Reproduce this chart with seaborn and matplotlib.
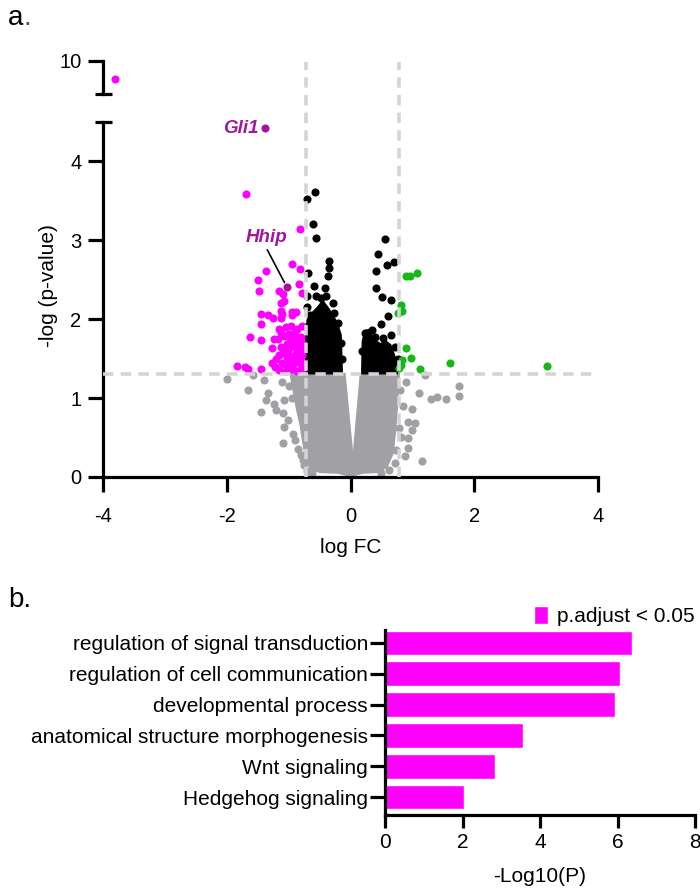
import numpy as np
import pandas as pd
import seaborn as sns
import matplotlib.pyplot as plt

# ---------------- Volcano data ----------------
mag_x = [-3.81, -1.69, -0.81, -1.37, -0.95, -0.81, -1.49, -1.48, -1.16, -0.84,
         -1.09, -0.78, -1.07, -1.12, -1.12, -0.94, -1.44, -1.34, -1.25, -1.12,
         -1.45, -1.10, -0.88, -0.95, -1.63, -1.45, -1.23, -1.27, -1.83, -1.71,
         -1.66, -1.44, -1.27,
         -1.15, -1.05, -0.96, -0.86, -0.78, -1.17, -1.08, -0.99, -0.90, -0.80,
         -1.13, -1.03, -0.93, -0.84, -0.76, -1.16, -1.06, -0.97, -0.88, -0.78,
         -1.10, -1.00, -0.92, -0.83, -0.76, -1.15, -1.05, -0.96, -0.86, -0.78,
         -1.20, -1.22, -1.01, -0.89, -0.81, -1.02, -0.94, -0.86, -1.09, -0.98,
         -0.90, -0.82, -1.12, -1.04, -0.79, -0.92, -0.85]
mag_y = [9.45, 3.59, 3.14, 2.61, 2.70, 2.64, 2.50, 2.36, 2.36, 2.45,
         2.32, 2.33, 2.23, 2.21, 2.10, 2.09, 2.06, 2.05, 2.01, 2.01,
         1.94, 2.07, 2.09, 2.05, 1.78, 1.74, 1.75, 1.63, 1.41, 1.40,
         1.37, 1.37, 1.44,
         1.88, 1.90, 1.91, 1.87, 1.92, 1.75, 1.79, 1.81, 1.76, 1.78,
         1.65, 1.68, 1.66, 1.64, 1.69, 1.55, 1.57, 1.54, 1.56, 1.55,
         1.45, 1.47, 1.44, 1.46, 1.43, 1.36, 1.35, 1.37, 1.34, 1.36,
         1.50, 1.40, 1.60, 1.70, 1.50, 1.52, 1.40, 1.60, 1.62, 1.72,
         1.84, 1.62, 1.82, 1.42, 1.40, 1.50, 1.72]

blk_x = [-0.70, -0.57, -0.61, -0.55, -0.34, -0.34, -0.36, -0.69, -0.59, -0.42,
         -0.39, -0.47, -0.55, -0.28, -0.71, -0.71, -0.26, -0.65, -0.20, -0.15,
         -0.13, -0.72, -0.74,
         0.55, 0.45, 0.59, 0.71, 0.42, 0.42, 0.51, 0.66, 0.60, 0.49,
         0.23, 0.34, 0.52, 0.66, 0.72, 0.76, 0.19, 0.40]
blk_y = [3.52, 3.61, 3.21, 3.03, 2.74, 2.65, 2.55, 2.58, 2.42, 2.39,
         2.29, 2.27, 2.29, 2.20, 2.29, 2.16, 2.08, 2.05, 1.95, 1.70,
         1.50, 1.90, 1.60,
         3.02, 2.83, 2.69, 2.72, 2.61, 2.40, 2.28, 2.25, 2.04, 1.94,
         1.83, 1.86, 1.76, 1.80, 1.65, 1.50, 1.60, 1.78]

grn_x = [0.89, 0.96, 1.08, 0.82, 0.84, 0.77, 0.89, 0.98, 0.84, 0.82, 1.12, 1.60, 3.17, 0.79]
grn_y = [2.55, 2.55, 2.58, 2.18, 2.10, 2.08, 1.64, 1.51, 1.48, 1.42, 1.37, 1.44, 1.41, 1.38]

gry_x = [-1.99, -1.66, -1.57, -1.40, -1.45, -1.36, -1.33, -1.24, -1.20, -1.09,
         -1.07, -1.09, -1.01, -0.93, -0.90, -0.77, -1.07, -1.00, -1.10, -0.95,
         -0.85, -0.80, -0.75, -0.70, -0.62,
         1.20, 1.10, 1.30, 1.40, 1.54, 1.75, 1.75, 0.99, 1.04, 0.99,
         0.93, 0.82, 0.93, 0.88, 1.15, 0.74, 0.93, 0.79, 0.85, 0.80, 0.90,
         0.72, 0.62, 0.50]
gry_y = [1.24, 1.10, 1.29, 1.23, 0.82, 0.98, 1.06, 0.93, 0.85, 0.81,
         0.64, 0.43, 0.72, 0.55, 0.47, 0.22, 0.98, 1.15, 1.20, 1.00,
         0.35, 0.28, 0.15, 0.08, 0.05,
         1.29, 1.07, 0.99, 1.01, 0.99, 1.15, 1.03, 0.86, 0.69, 0.60,
         0.49, 0.51, 0.37, 0.27, 0.20, 0.34, 0.70, 0.62, 0.90, 1.10, 1.20,
         0.18, 0.09, 0.05]

# outlines of the dense clouds (too many genes to place one by one)
gry_env_x = [-0.99, -0.93, -0.88, -0.82, -0.78, -0.74, -0.66, -0.50, -0.20, 0.00,
             0.20, 0.45, 0.60, 0.70, 0.74, 0.77, 0.80, 0.15, 0.04, -0.08]
gry_env_y = [1.32, 1.06, 0.85, 0.64, 0.43, 0.25, 0.10, 0.05, 0.04, 0.00,
             0.04, 0.05, 0.12, 0.30, 0.60, 0.90, 1.32, 1.32, 0.34, 1.32]
blk_left_x = [-0.74, -0.74, -0.71, -0.64, -0.55, -0.45, -0.35, -0.27, -0.20, -0.14, -0.12]
blk_left_y = [1.30, 1.80, 2.00, 2.08, 2.15, 2.25, 2.15, 2.05, 1.95, 1.80, 1.30]
blk_right_x = [0.17, 0.18, 0.22, 0.30, 0.38, 0.48, 0.58, 0.66, 0.72, 0.77, 0.77]
blk_right_y = [1.30, 1.72, 1.86, 1.88, 1.76, 1.70, 1.73, 1.68, 1.55, 1.45, 1.30]

genes = ["Gli1", "Hhip"]
gene_x = [-1.38, -1.03]
gene_y = [4.42, 2.41]

fc_cut = [-0.72, 0.78]
p_cut = 1.3

# ---------------- GO enrichment data ----------------
terms = ["regulation of signal transduction", "regulation of cell communication",
         "developmental process", "anatomical structure morphogenesis",
         "Wnt signaling", "Hedgehog signaling"]
logp = [6.37, 6.06, 5.94, 3.57, 2.84, 2.04]

# ---------------- Style ----------------
sns.set_theme(style="ticks")
plt.rcParams["font.family"] = ["Liberation Sans", "DejaVu Sans"]
plt.rcParams["axes.linewidth"] = 2.3
plt.rcParams["axes.unicode_minus"] = False
for k in ["text.color", "axes.labelcolor", "xtick.color", "ytick.color", "axes.edgecolor"]:
    plt.rcParams[k] = "black"

MAG = "#ff00ff"
GRN = "#16b816"
GRY = "#a0a0a5"
DASH = "#d4d4d4"
LAB = "#a0169c"

fig = plt.figure(figsize=(7, 8.9), dpi=100)
W, H = 700, 890
ax_top = fig.add_axes([103 / W, (H - 94) / H, 495 / W, 33 / H])
ax = fig.add_axes([103 / W, (H - 477) / H, 495 / W, 355 / H])

pt = dict(s=34, linewidth=0, legend=False)
for a in (ax, ax_top):
    a.fill(gry_env_x, gry_env_y, color=GRY, lw=0, zorder=1)
    sns.scatterplot(x=gry_x, y=gry_y, color=GRY, ax=a, zorder=2, **pt)
    a.fill(blk_left_x, blk_left_y, color="black", lw=0, zorder=2)
    a.fill(blk_right_x, blk_right_y, color="black", lw=0, zorder=2)
    sns.scatterplot(x=blk_x, y=blk_y, color="black", ax=a, zorder=3, **pt)
    sns.scatterplot(x=mag_x, y=mag_y, color=MAG, ax=a, zorder=3, **pt)
    sns.scatterplot(x=grn_x, y=grn_y, color=GRN, ax=a, zorder=3, **pt)
    sns.scatterplot(x=gene_x, y=gene_y, color=LAB, ax=a, zorder=4, **pt)
    a.set_xlim(-4, 4)

# threshold lines
for xc in fc_cut:
    ax.plot([xc, xc], [0, 5.26], color=DASH, lw=2.6, dashes=(2.9, 2.0),
            zorder=5, clip_on=False)
ax.axhline(p_cut, color=DASH, lw=2.6, dashes=(2.9, 2.0), zorder=5)

# gene labels
ax.annotate("Gli1", (gene_x[0], gene_y[0]), xytext=(-5, 0), textcoords="offset points",
            ha="right", va="center", fontsize=13.5, fontweight="bold",
            fontstyle="italic", color=LAB)
ax.annotate("Hhip", (gene_x[1], gene_y[1]), xytext=(-1.36, 3.03), textcoords="data",
            ha="center", va="center", fontsize=13.5, fontweight="bold",
            fontstyle="italic", color=LAB,
            arrowprops=dict(arrowstyle="-", color="black", lw=1.2,
                            relpos=(0.48, 0.0), shrinkA=0, shrinkB=3.5))

# lower part of the broken axis
ax.set_ylim(0, 4.5)
ax.set_yticks([0, 1, 2, 3, 4])
ax.set_xticks([-4, -2, 0, 2, 4])
ax.tick_params(axis="both", length=10.5, width=2.3, labelsize=14.5, color="black")
ax.tick_params(axis="x", pad=11)
ax.tick_params(axis="y", pad=5)
sns.despine(ax=ax)
ax.set_xlabel("log FC", fontsize=15, labelpad=9)
ax.set_ylabel("-log (p-value)", fontsize=15, labelpad=9, y=0.54)

# upper part of the broken axis
ax_top.set_ylim(9, 10)
ax_top.set_yticks([10])
ax_top.set_xticks([])
ax_top.tick_params(axis="y", length=10.5, width=2.3, labelsize=14.5, pad=5)
for s in ["top", "right", "bottom"]:
    ax_top.spines[s].set_visible(False)
ax_top.patch.set_alpha(0)

# caps at the break
cap = [-8 / 495, 9 / 495]
ax_top.plot(cap, [9, 9], color="black", lw=2.3, clip_on=False,
            transform=ax_top.get_yaxis_transform(), solid_capstyle="butt")
ax.plot(cap, [4.5, 4.5], color="black", lw=2.3, clip_on=False,
        transform=ax.get_yaxis_transform(), solid_capstyle="butt")

# ---------------- GO bar chart ----------------
df = pd.DataFrame({"term": terms, "logp": logp, "group": "p.adjust < 0.05"})
axb = fig.add_axes([385 / W, (H - 815) / H, 310 / W, 185 / H])
sns.barplot(data=df, x="logp", y="term", hue="group", palette=[MAG], orient="h",
            width=0.8, dodge=False, ax=axb, saturation=1)
axb.set_ylim(5.58, -0.42)
axb.set_xlim(0, 8)
axb.set_xticks([0, 2, 4, 6, 8])
axb.tick_params(axis="both", width=2.3, labelsize=15, color="black")
axb.tick_params(axis="x", length=9, pad=4)
axb.tick_params(axis="y", length=10.8, pad=1.5)
sns.despine(ax=axb)
axb.set_ylabel("")
axb.set_xlabel("-Log10(P)", fontsize=15, labelpad=11)
axb.legend(loc="lower right", bbox_to_anchor=(1.0, 1.02), frameon=False,
           fontsize=15, handlelength=0.65, handleheight=0.9, handletextpad=0.45,
           borderaxespad=0, borderpad=0)

# panel letters
fig.text(8 / W, 1 - 18 / H, "a", fontsize=20, va="center", ha="left")
fig.text(24 / W, 1 - 18 / H, ".", fontsize=20, va="center", ha="left", color="#555555")
fig.text(8 / W, 1 - 600 / H, "b.", fontsize=20, va="center", ha="left")

fig.savefig("out.png", dpi=100)
